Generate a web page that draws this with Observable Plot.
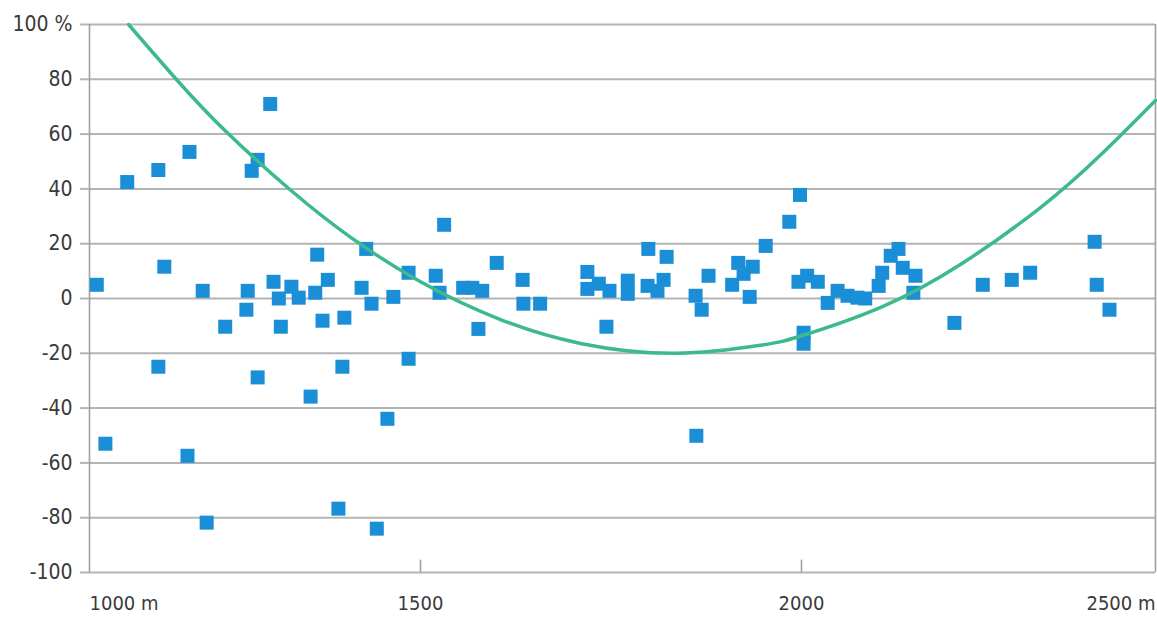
<!DOCTYPE html>
<html>
<head>
<meta charset="utf-8">
<script src="https://cdn.jsdelivr.net/npm/d3@7"></script>
<script src="https://cdn.jsdelivr.net/npm/@observablehq/plot@0.6"></script>
<style>
  html, body { margin: 0; padding: 0; background: #ffffff; }
  #chart { width: 1157px; height: 618px; }
</style>
</head>
<body>
<div id="chart"></div>
<script>
// Axis ticks and labels
const xTicks = [1000, 1500, 2000, 2500];
const xTickLabels = ["1000 m", "1500", "2000", "2500 m"];
const yTicks = [-100, -80, -60, -40, -20, 0, 20, 40, 60, 80, 100];
const yTickLabels = ["-100", "-80", "-60", "-40", "-20", "0", "20", "40", "60", "80", "100 %"];

// Scatter points: distance (m) and deviation (%)
const distance = [
  1011, 1024, 1057, 1104, 1104, 1113, 1151, 1148, 1171, 1177,
  1205, 1237, 1239, 1245, 1254, 1254, 1273, 1278, 1286, 1289,
  1305, 1316, 1334, 1341, 1344, 1352, 1360, 1376, 1382, 1385,
  1411, 1418, 1426, 1434, 1450, 1459, 1482, 1482, 1520, 1525,
  1531, 1556, 1568, 1581, 1576, 1600, 1634, 1635, 1657, 1719,
  1719, 1734, 1748, 1772, 1772, 1744, 1799, 1823, 1798, 1811,
  1819, 1861, 1869, 1878, 1909, 1917, 1924, 1936, 1932, 1953,
  1984, 1998, 1996, 2008, 2023, 2003, 2003, 2037, 2051, 2065,
  2079, 2090, 2109, 2114, 2126, 2137, 2143, 2161, 2158, 2216,
  2256, 2297, 2323, 2414, 2417, 2435, 1862
];
const deviation = [
  5.0, -53.0, 42.5, 46.9, -24.9, 11.6, 53.5, -57.4, 2.8, -81.8,
  -10.3, -4.1, 2.8, 46.6, 50.6, -28.8, 71.0, 6.1, 0, -10.3,
  4.3, 0.3, -35.8, 2.1, 16.0, -8.1, 6.8, -76.7, -24.9, -7.0,
  3.9, 18.1, -1.9, -84.0, -43.9, 0.6, -22.0, 9.4, 8.3, 2.1,
  26.9, 3.9, 3.9, 2.8, -11.1, 13.0, 6.8, -1.9, -1.9, 9.7,
  3.5, 5.4, 2.8, 6.5, 1.7, -10.3, 18.1, 15.2, 4.6, 2.8,
  6.8, 1.0, -4.1, 8.3, 5.0, 13.0, 9.0, 11.6, 0.6, 19.2,
  28.0, 37.8, 6.1, 8.3, 6.1, -12.5, -16.5, -1.6, 2.8, 1.0,
  0.3, 0, 4.6, 9.4, 15.6, 18.1, 11.2, 8.3, 2.1, -8.9,
  5.0, 6.8, 9.4, 20.7, 5.0, -4.1, -50.1
];

// Trend curve
const curveDistance = [1059, 1130, 1205, 1304, 1394, 1500, 1605, 1710, 1835, 1946, 2000, 2112, 2225, 2338, 2422, 2500];
const curveDeviation = [100, 80.3, 61.2, 39.5, 22.4, 6.1, -7.7, -16.4, -20.0, -17.1, -13.6, -3.2, 12.5, 33.3, 52.3, 72.3];

const points = distance.map((d, i) => ({distance: d, deviation: deviation[i]}));
const curvePts = curveDistance.map((d, i) => ({distance: d, deviation: curveDeviation[i]}));

const FONT = "'DejaVu Sans Condensed', 'DejaVu Sans', sans-serif";
const GRID = "#b4b4b4";
const TEXT = "#3a3a3a";

const chart = Plot.plot({
  width: 1157,
  height: 618,
  marginLeft: 89,
  marginRight: 2,
  marginTop: 24,
  marginBottom: 46,
  style: {background: "#ffffff", fontFamily: FONT, color: TEXT},
  x: {type: "linear", domain: xTicks, range: [89, 420, 801, 1155], axis: null},
  y: {domain: [-100, 100]},
  marks: [
    Plot.ruleY(yTicks, {x1: xTicks[0], x2: xTicks[xTicks.length - 1], stroke: GRID, strokeWidth: 2}),
    Plot.ruleX([xTicks[0], xTicks[xTicks.length - 1]], {y1: -100, y2: 100, stroke: "#a0a0a0", strokeWidth: 1.6}),
    Plot.ruleX(xTicks.slice(1, -1), {y1: -100, y2: -95.5, stroke: "#a0a0a0", strokeWidth: 1.6}),
    Plot.axisY({
      ticks: yTicks,
      tickSize: 9,
      tickPadding: 8,
      tickFormat: d => yTickLabels[yTicks.indexOf(d)],
      stroke: GRID,
      strokeWidth: 2,
      color: TEXT,
      fontSize: 21,
      label: null
    }),
    Plot.text([0], {x: () => xTicks[0], y: () => -100, text: () => xTickLabels[0], textAnchor: "start", dy: 31, fontSize: 20, fill: TEXT}),
    Plot.text([1, 2], {x: i => xTicks[i], y: () => -100, text: i => xTickLabels[i], textAnchor: "middle", dy: 31, fontSize: 20, fill: TEXT}),
    Plot.text([3], {x: () => xTicks[3], y: () => -100, text: () => xTickLabels[3], textAnchor: "end", dy: 31, fontSize: 20, fill: TEXT}),
    Plot.dot(points, {x: "distance", y: "deviation", symbol: "square", r: 7.9, fill: "#1a8ed6", stroke: null}),
    Plot.line(curvePts, {x: "distance", y: "deviation", curve: "natural", stroke: "#3cba8b", strokeWidth: 3.5})
  ]
});
document.getElementById("chart").appendChild(chart);
</script>
</body>
</html>
